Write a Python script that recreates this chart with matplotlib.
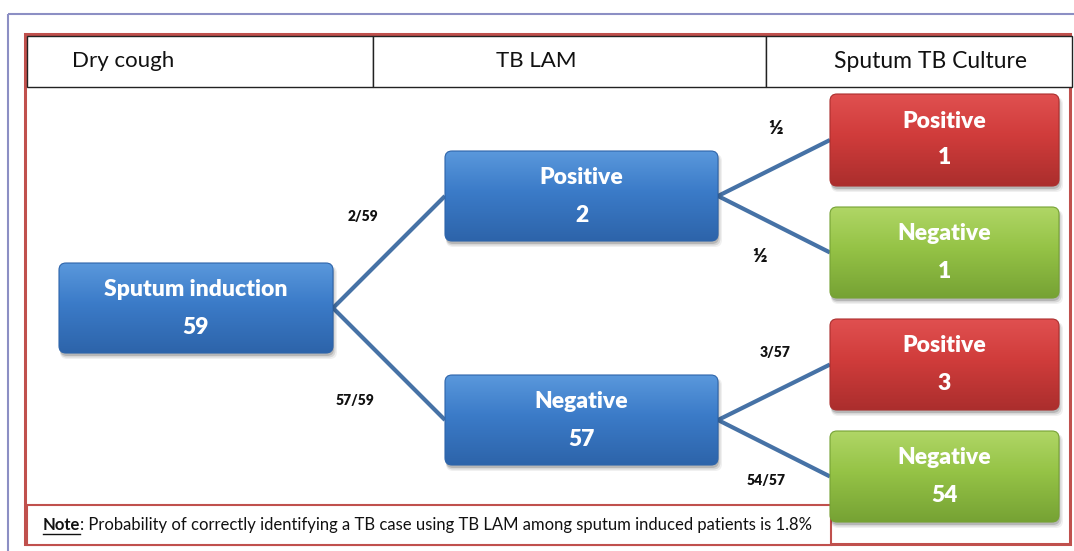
import numpy as np
import matplotlib
matplotlib.use("Agg")
import matplotlib.pyplot as plt
from matplotlib.patches import FancyBboxPatch, Rectangle
from matplotlib.colors import to_rgb

plt.rcParams['font.family'] = ['Lato', 'DejaVu Sans']

# --- data ---
stages = ["Dry cough", "TB LAM", "Sputum TB Culture"]
root_label = "Sputum induction"
root_n = 59
lam_labels = ["Positive", "Negative"]
lam_n = [2, 57]
lam_probs = ["2/59", "57/59"]
culture_labels = ["Positive", "Negative", "Positive", "Negative"]
culture_n = [1, 1, 3, 54]
culture_probs = ["\u00bd", "\u00bd", "3/57", "54/57"]
note_head = "Note"
note_body = ": Probability of correctly identifying a TB case using TB LAM among sputum induced patients is 1.8%"

W, H = 1074, 551
fig = plt.figure(figsize=(W / 100, H / 100), dpi=100)
ax = fig.add_axes([0, 0, 1, 1])
ax.set_xlim(0, W)
ax.set_ylim(H, 0)
ax.axis('off')

BLUE = ("#5a98dc", "#3b7bc8", "#2d64aa")
RED = ("#e05050", "#d03c3b", "#ab2e2d")
GREEN = ("#b0d666", "#95c346", "#76a234")
EDGE = "#4672a6"


def box(x0, y0, x1, y1, cols, title, n):
    # shadow
    for k, a in [(5, 0.06), (3.5, 0.10), (2, 0.15)]:
        ax.add_patch(FancyBboxPatch((x0 + 1, y0 + 3), x1 - x0 + k - 2, y1 - y0 + k - 2,
                                    boxstyle="round,pad=0,rounding_size=7",
                                    fc="black", ec="none", alpha=a, zorder=3))
    p = FancyBboxPatch((x0, y0), x1 - x0, y1 - y0,
                       boxstyle="round,pad=0,rounding_size=7",
                       fc="none", ec=cols[2], lw=0.8, zorder=5)
    ax.add_patch(p)
    t = np.linspace(0, 1, 120)
    c0, c1, c2 = [np.array(to_rgb(c)) for c in cols]
    grad = np.where(t[:, None] < 0.45,
                    c0 + (c1 - c0) * (t[:, None] / 0.45),
                    c1 + (c2 - c1) * ((t[:, None] - 0.45) / 0.55))
    im = ax.imshow(grad[:, None, :], extent=(x0, x1, y1, y0), aspect='auto',
                   origin='upper', zorder=4, interpolation='bilinear')
    im.set_clip_path(p)
    cx = (x0 + x1) / 2
    ax.text(cx, y0 + 27, title, color="white", fontsize=16.5, fontweight='heavy',
            ha='center', va='center', zorder=6)
    ax.text(cx, y0 + 64, str(n), color="white", fontsize=16.5, fontweight='heavy',
            ha='center', va='center', zorder=6)


# outer frames
ax.add_patch(Rectangle((8, 14), 1100, 600, fc="none", ec="#8c8fc4", lw=1.5, zorder=1))
ax.add_patch(Rectangle((25, 34), 1045, 510, fc="white", ec="#c0504d", lw=2.2, zorder=1))

# header row
cols_x = [27, 373, 766, 1072]
for i, s in enumerate(stages):
    ax.add_patch(Rectangle((cols_x[i], 36), cols_x[i + 1] - cols_x[i], 51,
                           fc="white", ec="#222222", lw=1.0, zorder=2))
ax.text(72, 61, stages[0], fontsize=16, ha='left', va='center', color="#111111", zorder=3)
ax.text(536, 61, stages[1], fontsize=16, ha='center', va='center', color="#111111", zorder=3)
ax.text(931, 61, stages[2], fontsize=16.5, ha='center', va='center', color="#111111", zorder=3)

# node layout
root = (59, 263, 333, 353)
lam_boxes = [(445, 151, 718, 241), (445, 375, 718, 465)]
cul_boxes = [(830, 94, 1059, 186), (830, 207, 1059, 298),
             (830, 319, 1059, 410), (830, 431, 1059, 522)]

def rmid(b):
    return b[2], (b[1] + b[3]) / 2

def lmid(b):
    return b[0], (b[1] + b[3]) / 2

# edges
for b in lam_boxes:
    (xa, ya), (xb, yb) = rmid(root), lmid(b)
    ax.plot([xa, xb], [ya, yb], color=EDGE, lw=3, zorder=2, solid_capstyle='butt')
for i, b in enumerate(cul_boxes):
    (xa, ya), (xb, yb) = rmid(lam_boxes[i // 2]), lmid(b)
    ax.plot([xa, xb], [ya, yb], color=EDGE, lw=3, zorder=2, solid_capstyle='butt')

# edge probability labels
lam_lab_pos = [(363, 217), (355, 400)]
cul_lab_pos = [(776, 128), (760, 256), (775, 352), (766, 481)]
for s, (x, y) in zip(lam_probs, lam_lab_pos):
    ax.text(x, y, s, fontsize=10, fontweight='heavy', ha='center', va='center', color="#111111", zorder=3)
for s, (x, y) in zip(culture_probs, cul_lab_pos):
    fs = 14 if s == "\u00bd" else 10
    ax.text(x, y, s, fontsize=fs, fontweight='heavy', ha='center', va='center', color="#111111", zorder=3)

# note box (under the last green box)
ax.add_patch(Rectangle((27, 505), 804, 40, fc="white", ec="#c0504d", lw=1.5, zorder=2))
t1 = ax.text(43, 525, note_head, fontsize=12, fontweight='bold', ha='left', va='center',
             color="#111111", zorder=3)
fig.canvas.draw()
r = fig.canvas.get_renderer()
bb = t1.get_window_extent(r).transformed(ax.transData.inverted())
ax.plot([bb.x0, bb.x1], [534, 534], color="#111111", lw=1.0, zorder=3)
ax.text(bb.x1, 525, note_body, fontsize=12, ha='left', va='center', color="#111111", zorder=3)

# boxes
box(*root, BLUE, root_label, root_n)
for b, lab, n in zip(lam_boxes, lam_labels, lam_n):
    box(*b, BLUE, lab, n)
for b, lab, n in zip(cul_boxes, culture_labels, culture_n):
    box(*b, RED if lab == "Positive" else GREEN, lab, n)

fig.savefig("out.png", dpi=100)
